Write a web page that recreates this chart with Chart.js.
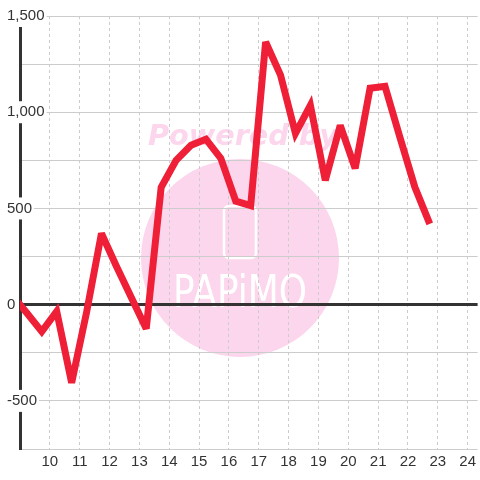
<!DOCTYPE html>
<html>
<head>
<meta charset="utf-8">
<script src="https://cdn.jsdelivr.net/npm/chart.js@4/dist/chart.umd.min.js"></script>
<style>
html,body{margin:0;padding:0;background:#ffffff;}
#wrap{width:480px;height:480px;}
</style>
</head>
<body>
<div id="wrap"><canvas id="c" width="480" height="480"></canvas></div>
<script>
// x positions (hours) and values
const xValues = [8.73, 9.23, 9.73, 10.23, 10.73, 11.23, 11.73, 12.23, 12.73, 13.23, 13.73, 14.23, 14.73, 15.23, 15.73, 16.23, 16.73, 17.23, 17.73, 18.23, 18.73, 19.23, 19.73, 20.23, 20.73, 21.23, 21.73, 22.23, 22.73];
const seriesValues = [50, -43, -140, -35, -406, -40, 370, 200, 37, -125, 610, 750, 828, 860, 760, 538, 515, 1365, 1193, 890, 1036, 646, 932, 708, 1125, 1135, 870, 611, 420];
const xTickLabels = ['10','11','12','13','14','15','16','17','18','19','20','21','22','23','24'];
const yTickLabels = ['-500','0','500','1,000','1,500'];

const points = xValues.map((x, i) => ({x: x, y: seriesValues[i]}));

const watermark = {
  id: 'watermark',
  beforeDraw(chart) {
    const ctx = chart.ctx;
    ctx.save();
    ctx.fillStyle = '#ffffff';
    ctx.fillRect(0, 0, chart.width, chart.height);
    ctx.fillStyle = '#fcd6ec';
    ctx.beginPath();
    ctx.arc(240, 258, 99, 0, Math.PI * 2);
    ctx.fill();
    ctx.font = 'italic bold 29px "DejaVu Sans"';
    ctx.textBaseline = 'alphabetic';
    ctx.textAlign = 'left';
    const t = 'Powered by';
    const w = ctx.measureText(t).width;
    ctx.translate(148, 145);
    ctx.scale(190 / w, 1);
    ctx.fillText(t, 0, 0);
    ctx.setTransform(1, 0, 0, 1, 0, 0);
    ctx.strokeStyle = '#ffffff';
    ctx.lineWidth = 2.5;
    ctx.beginPath();
    ctx.roundRect(224, 206, 32, 52, 5);
    ctx.stroke();
    ctx.fillStyle = '#ffffff';
    ctx.font = '44px "DejaVu Sans"';
    const t2 = 'PAPiMO';
    const w2 = ctx.measureText(t2).width;
    ctx.translate(173, 307);
    ctx.scale(134 / w2, 1);
    ctx.fillText(t2, 0, 0);
    ctx.restore();
  },
  beforeDatasetsDraw(chart) { chart.ctx.save(); chart.ctx.miterLimit = 3; },
  afterDatasetsDraw(chart) { chart.ctx.restore(); }
};

new Chart(document.getElementById('c'), {
  type: 'line',
  data: {
    datasets: [{
      data: points,
      borderColor: '#ee1f36',
      borderWidth: 7,
      borderJoinStyle: 'miter',
      borderCapStyle: 'butt',
      pointRadius: 0,
      tension: 0,
      fill: false
    }]
  },
  options: {
    responsive: false,
    animation: false,
    events: [],
    layout: {padding: {left: 5, top: 16, right: 0, bottom: 5}},
    plugins: {legend: {display: false}, tooltip: {enabled: false}},
    scales: {
      x: {
        type: 'linear',
        min: 9,
        max: 24 + 1/3,
        border: {display: false, dash: [3, 3]},
        grid: {
          drawTicks: false,
          color: c => (Number.isInteger(c.tick.value) ? '#cccccc' : 'rgba(0,0,0,0)'),
          lineWidth: 1
        },
        ticks: {
          stepSize: 1,
          includeBounds: false,
          autoSkip: false,
          maxRotation: 0,
          padding: 4,
          color: '#333333',
          font: {family: '"Liberation Sans", Arial, sans-serif', size: 15},
          callback: v => xTickLabels.includes(String(v)) ? String(v) : ''
        }
      },
      y: {
        type: 'linear',
        min: -750,
        max: 1500,
        afterFit: s => { s.width = 15; },
        border: {display: true, color: '#333333', width: 3},
        grid: {
          drawTicks: false,
          color: c => (c.tick.value === 0 ? '#333333' : '#cccccc'),
          lineWidth: c => (c.tick.value === 0 ? 3 : 1)
        },
        ticks: {
          stepSize: 250,
          mirror: true,
          crossAlign: 'near',
          padding: -13,
          color: '#333333',
          font: {family: '"Liberation Sans", Arial, sans-serif', size: 15},
          showLabelBackdrop: c => c.tick.value % 500 === 0,
          backdropColor: '#ffffff',
          backdropPadding: 2,
          callback: v => {
            const s = v.toLocaleString('en-US');
            return yTickLabels.includes(s) ? s : '';
          }
        }
      }
    }
  },
  plugins: [watermark]
});
</script>
</body>
</html>
